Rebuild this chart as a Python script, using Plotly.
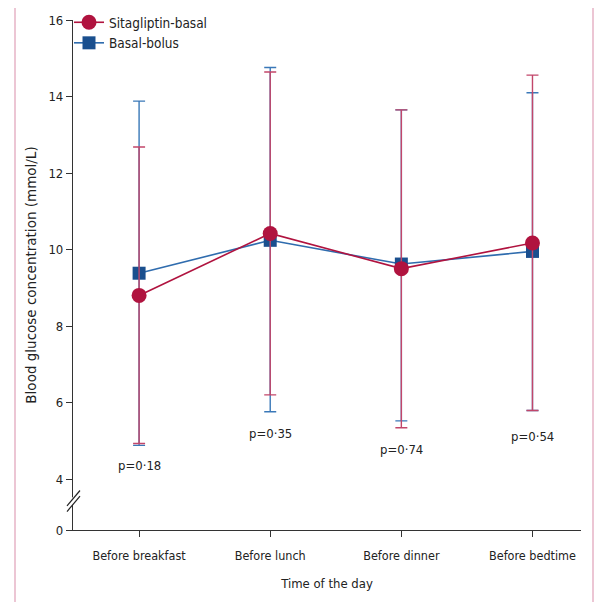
import plotly.graph_objects as go

categories = ["Before breakfast", "Before lunch", "Before dinner", "Before bedtime"]

sita_mean = [8.8, 10.42, 9.5, 10.17]
sita_upper = [12.68, 14.64, 13.65, 14.56]
sita_lower = [4.93, 6.2, 5.34, 5.79]

bb_mean = [9.38, 10.24, 9.62, 9.95]
bb_upper = [13.88, 14.76, 13.65, 14.1]
bb_lower = [4.88, 5.76, 5.52, 5.79]

p_labels = ["p=0·18", "p=0·35", "p=0·74", "p=0·54"]
p_y = [4.35, 5.2, 4.78, 5.12]

ytick_vals = [2.667, 4, 6, 8, 10, 12, 14, 16]
ytick_text = ["0", "4", "6", "8", "10", "12", "14", "16"]

RED = "#B0133F"
RED_ERR = "#C2466A"
BLUE = "#1A4F8E"
BLUE_ERR = "#3A78B8"
NARROW = "DejaVu Sans Condensed, Liberation Sans, sans-serif"

# page has an 8px body margin: plot area 73..581 x 20..530 in page px
W, H = 604, 594
L, T = 65, 12
PW, PH = 508, 510

x_idx = list(range(len(categories)))

fig = go.Figure()

fig.add_trace(go.Scatter(
    x=x_idx, y=bb_mean, name="Basal-bolus", mode="lines+markers",
    line=dict(color="#2F6CAE", width=1.6),
    marker=dict(symbol="square", size=13, color=BLUE),
    error_y=dict(type="data", symmetric=False,
                 array=[u - m for u, m in zip(bb_upper, bb_mean)],
                 arrayminus=[m - l for m, l in zip(bb_mean, bb_lower)],
                 color=BLUE_ERR, thickness=1.4, width=6),
))
fig.add_trace(go.Scatter(
    x=x_idx, y=sita_mean, name="Sitagliptin-basal", mode="lines+markers",
    line=dict(color=RED, width=1.6),
    marker=dict(symbol="circle", size=15, color=RED),
    error_y=dict(type="data", symmetric=False,
                 array=[u - m for u, m in zip(sita_upper, sita_mean)],
                 arrayminus=[m - l for m, l in zip(sita_mean, sita_lower)],
                 color=RED_ERR, thickness=1.4, width=6),
))

for xi, lab, py in zip(x_idx, p_labels, p_y):
    fig.add_annotation(x=xi, y=py, text=lab, showarrow=False,
                       font=dict(family=NARROW, size=13, color="#222"))

shapes = []
# pink frame (left and right lines)
shapes.append(dict(type="line", xref="paper", yref="paper",
                   x0=(7 - L) / PW, x1=(7 - L) / PW, y0=-0.5, y1=1.5,
                   line=dict(color="#E6B3C6", width=1.5), layer="below"))
shapes.append(dict(type="line", xref="paper", yref="paper",
                   x0=(585 - L) / PW, x1=(585 - L) / PW, y0=-0.5, y1=1.5,
                   line=dict(color="#E6B3C6", width=1.5), layer="below"))
# axis break: white gap and slashes
shapes.append(dict(type="rect", xref="paper", yref="y",
                   x0=-4 / PW, x1=4 / PW, y0=3.32, y1=3.52,
                   fillcolor="white", line=dict(width=0), layer="above"))
shapes.append(dict(type="line", xref="paper", yref="y",
                   x0=-6 / PW, x1=7 / PW, y0=3.3, y1=3.7,
                   line=dict(color="#222", width=1.2), layer="above"))
shapes.append(dict(type="line", xref="paper", yref="y",
                   x0=-6 / PW, x1=7 / PW, y0=3.15, y1=3.55,
                   line=dict(color="#222", width=1.2), layer="above"))
fig.update_layout(shapes=shapes)

fig.update_layout(
    width=W, height=H,
    margin=dict(l=L, r=W - L - PW, t=T, b=H - T - PH, autoexpand=False),
    paper_bgcolor="white", plot_bgcolor="white",
    font=dict(family=NARROW, size=13, color="#222"),
    showlegend=True,
    legend=dict(x=-4 / PW, y=1 + 13 / PH, xanchor="left", yanchor="top",
                traceorder="reversed", bgcolor="rgba(0,0,0,0)",
                font=dict(family=NARROW, size=13.5, color="#222"),
                itemwidth=30, tracegroupgap=0),
    xaxis=dict(
        range=[-0.504, 3.37], tickmode="array", tickvals=x_idx, ticktext=categories,
        automargin=False,
        showline=True, linecolor="#333", linewidth=1.2, ticks="outside",
        ticklen=6, tickcolor="#333", showgrid=False, zeroline=False,
        ticklabelstandoff=8,
        tickfont=dict(family=NARROW, size=12.5, color="#222"),
        title=dict(text="Time of the day", font=dict(family=NARROW, size=13, color="#222"), standoff=16),
    ),
    yaxis=dict(
        range=[2.667, 16], tickmode="array", tickvals=ytick_vals, ticktext=ytick_text,
        automargin=False,
        showline=True, linecolor="#333", linewidth=1.2, ticks="outside",
        ticklen=6, tickcolor="#333", showgrid=False, zeroline=False,
        tickfont=dict(family=NARROW, size=13, color="#222"),
        title=dict(text="Blood glucose concentration (mmol/L)",
                   font=dict(family="DejaVu Sans, sans-serif", size=13.5, color="#222"), standoff=8),
    ),
)

fig.write_html("out.html")
